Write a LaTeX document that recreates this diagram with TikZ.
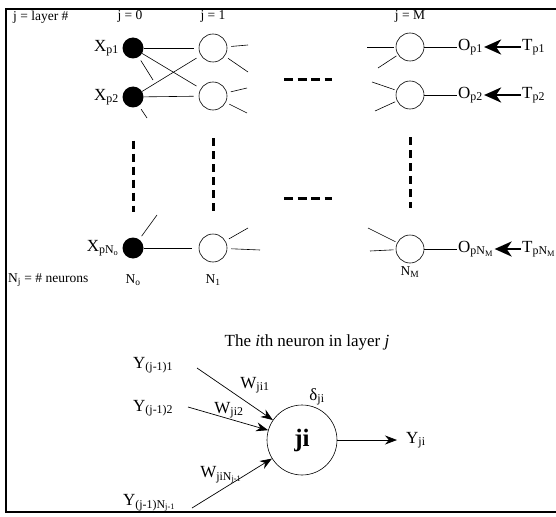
\documentclass[tikz,border=0pt]{standalone}
\usepackage{fontspec}
\setmainfont{Liberation Serif}
\usetikzlibrary{arrows.meta}
\newcommand{\lo}[1]{\textsubscript{#1}}
\tikzset{
  inode/.style={circle, fill=black, minimum size=21pt, inner sep=0pt},
  hnode/.style={circle, draw, line width=0.6pt, minimum size=28pt, inner sep=0pt},
  wire/.style={line width=0.6pt},
  stub/.style={wire, shorten <=4pt},
  instub/.style={wire, shorten >=2pt},
  vgap/.style={line width=3pt, dash pattern=on 8pt off 5pt},
  hgap/.style={line width=3pt, dash pattern=on 9pt off 4.5pt},
  lbl/.style={inner sep=1pt, font=\fontsize{17}{19}\selectfont},
  hdr/.style={inner sep=1pt, font=\fontsize{13.5}{15}\selectfont},
  target/.style={line width=2.6pt, -{Stealth[length=17pt, width=15pt, inset=5pt]}},
  sig/.style={line width=0.7pt, -{Stealth[length=12pt, width=9pt]}},
}
\begin{document}
\begin{tikzpicture}[x=1pt, y=-1pt]
	\useasboundingbox (0,0) rectangle (556,516);
	\draw[line width=1.6pt] (556,9) -- (6,9) -- (6,512) -- (556,512);

	% layer headers
	\node[hdr, anchor=west] (hlayer) at (12,17) {j = layer \#};
	\node[hdr] (h0) at (130,16) {j = 0};
	\node[hdr] (h1) at (213,16) {j = 1};
	\node[hdr] (hM) at (410,16) {j = M};

	% input layer
	\node[inode] (x1) at (133,48) {};
	\node[inode] (x2) at (133,97) {};
	\node[inode] (xn) at (133,248) {};
	\node[lbl, anchor=east] (lx1) at (120,48) {X\lo{p1}};
	\node[lbl, anchor=east] (lx2) at (120,97) {X\lo{p2}};
	\node[lbl, anchor=east] (lxn) at (120,248) {X\lo{pN\lo{o}}};

	% first layer
	\node[hnode] (a1) at (213,48) {};
	\node[hnode] (a2) at (213,96) {};
	\node[hnode] (an) at (213,248) {};

	% last layer
	\node[hnode] (m1) at (410,47) {};
	\node[hnode] (m2) at (410,95) {};
	\node[hnode] (mn) at (410,249) {};

	% outputs and targets
	\node[lbl, anchor=west] (o1) at (457,47) {O\lo{p1}};
	\node[lbl, anchor=west] (o2) at (457,95) {O\lo{p2}};
	\node[lbl, anchor=west] (on) at (457,249) {O\lo{pN\lo{M}}};
	\node[lbl, anchor=west] (t1) at (521,47) {T\lo{p1}};
	\node[lbl, anchor=west] (t2) at (521,95) {T\lo{p2}};
	\node[lbl, anchor=west] (tn) at (521,249) {T\lo{pN\lo{M}}};
	\draw[target] (t1) -- (o1);
	\draw[target] (t2) -- (o2);
	\draw[target] (tn) -- (on);

	% neuron counts
	\node[hdr, anchor=west] (hcount) at (7,280) {N\lo{j} = \# neurons};
	\node[hdr] (n0) at (133,280) {N\lo{o}};
	\node[hdr] (n1) at (213,280) {N\lo{1}};
	\node[hdr] (nM) at (410,272) {N\lo{M}};

	% input -> first layer
	\draw[wire, shorten >=5pt] (x1) -- (a1);
	\draw[wire, shorten >=5pt] (x1) -- (a2);
	\draw[wire, shorten >=5pt] (x2) -- (a1);
	\draw[wire, shorten >=5pt] (x2) -- (a2);
	\draw[wire, shorten >=7pt] (xn) -- (an);
	\coordinate (sx1) at (153,80);
	\coordinate (sx2) at (147,118);
	\coordinate (sxn) at (157,215);
	\draw[stub] (x1) -- (sx1);
	\draw[stub] (x2) -- (sx2);
	\draw[stub] (xn) -- (sxn);

	% loose ends of the first layer
	\coordinate (sa1) at (248,45);
	\coordinate (sa2) at (248,72);
	\coordinate (sa3) at (247,88);
	\coordinate (sa4) at (247,113);
	\coordinate (sa5) at (248,228);
	\coordinate (sa6) at (260,250);
	\draw[stub] (a1) -- (sa1);
	\draw[stub] (a1) -- (sa2);
	\draw[stub] (a2) -- (sa3);
	\draw[stub] (a2) -- (sa4);
	\draw[stub] (an) -- (sa5);
	\draw[stub] (an) -- (sa6);

	% loose ends into the last layer
	\coordinate (sm1) at (367,47);
	\coordinate (sm2) at (378,68);
	\coordinate (sm3) at (372,82);
	\coordinate (sm4) at (375,111);
	\coordinate (sm5) at (368,228);
	\coordinate (sm6) at (370,251);
	\draw[instub] (sm1) -- (m1);
	\draw[instub] (sm2) -- (m1);
	\draw[instub] (sm3) -- (m2);
	\draw[instub] (sm4) -- (m2);
	\draw[instub] (sm5) -- (mn);
	\draw[instub] (sm6) -- (mn);

	% last layer -> outputs
	\draw[wire] (m1) -- (o1);
	\draw[wire] (m2) -- (o2);
	\draw[wire] (mn) -- (on);

	% ellipses
	\draw[vgap, shorten <=33pt, shorten >=25pt] (x2) -- (xn);
	\draw[vgap, shorten <=28pt, shorten >=22pt] (a2) -- (an);
	\draw[vgap, shorten <=28pt, shorten >=27pt] (m2) -- (mn);
	\coordinate (e1) at (284,80);
	\coordinate (e2) at (332,80);
	\coordinate (e3) at (284,198);
	\coordinate (e4) at (332,198);
	\draw[hgap] (e1) -- (e2);
	\draw[hgap] (e3) -- (e4);

	% single neuron
	\node[lbl] (title) at (307,342) {The \textit{i}th neuron in layer \textit{j}};
	\node[circle, draw, line width=0.6pt, minimum size=70pt, inner sep=0pt,
		font=\bfseries\fontsize{25}{27}\selectfont] (ji) at (302,440) {ji};
	\node[lbl] (delta) at (317,397) {δ\lo{ji}};
	\node[lbl, anchor=west] (y1) at (132,365) {Y\lo{(j-1)1}};
	\node[lbl, anchor=west] (y2) at (132,408) {Y\lo{(j-1)2}};
	\node[lbl, anchor=west] (yn) at (122,503) {Y\lo{(j-1)N\lo{j-1}}};
	\coordinate (s1) at (197,368);
	\coordinate (s2) at (188,407);
	\coordinate (sn) at (192,508);
	\draw[sig] (s1) -- (ji);
	\draw[sig] (s2) -- (ji);
	\draw[sig] (sn) -- (ji);
	\node[lbl] (w1) at (255,385) {W\lo{ji1}};
	\node[lbl] (w2) at (229,410) {W\lo{ji2}};
	\node[lbl] (wn) at (221,475) {W\lo{jiN\lo{j-1}}};
	\node[lbl, anchor=west] (yo) at (405,440) {Y\lo{ji}};
	\draw[sig, shorten >=8pt] (ji) -- (yo);
\end{tikzpicture}
\end{document}
